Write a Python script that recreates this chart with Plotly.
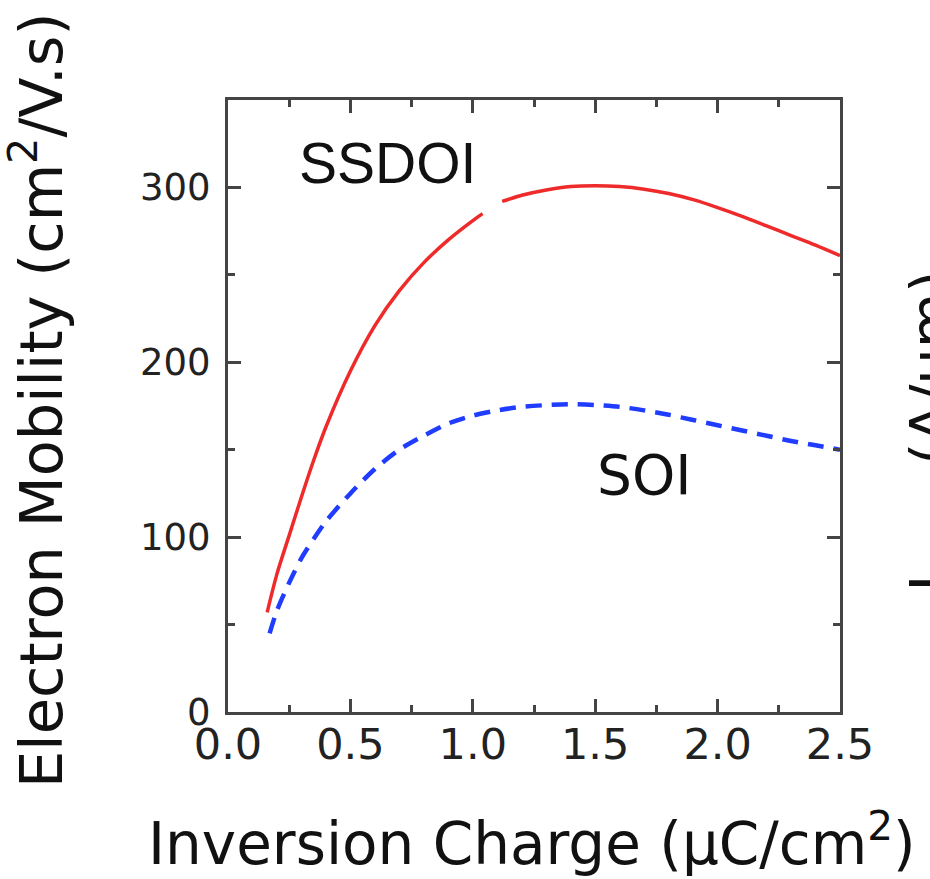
import plotly.graph_objects as go

# SSDOI (red solid) - two segments with a small break near 1.05-1.1
ssdoi_x = [0.16, 0.2, 0.25, 0.3, 0.35, 0.4, 0.5, 0.6, 0.7, 0.8, 0.9, 1.0, 1.04,
           None,
           1.12, 1.2, 1.3, 1.4, 1.5, 1.6, 1.7, 1.8, 1.9, 2.0, 2.1, 2.2, 2.3, 2.4, 2.5]
ssdoi_y = [57, 79, 101, 123, 144, 163, 195, 221, 241, 257, 270, 281, 285,
           None,
           292, 295.5, 298.5, 300.5, 301, 300.5, 299, 296.5, 293, 288.5, 283.5, 278, 272.5, 267, 261]

# SOI (blue dashed)
soi_x = [0.17, 0.2, 0.25, 0.3, 0.35, 0.4, 0.5, 0.6, 0.7, 0.8, 0.9, 1.0, 1.1, 1.2, 1.3,
         1.4, 1.5, 1.6, 1.7, 1.8, 1.9, 2.0, 2.1, 2.2, 2.3, 2.4, 2.5]
soi_y = [45, 58, 74, 88, 99, 109, 125, 139, 150, 158, 165, 169.5, 172.5, 174.5, 175.5,
         176, 175.5, 174.5, 172.5, 170, 167, 164, 161, 158, 155, 152.5, 150]

x_ticks = [0.0, 0.5, 1.0, 1.5, 2.0, 2.5]
x_tick_labels = ["0.0", "0.5", "1.0", "1.5", "2.0", "2.5"]
y_ticks = [0, 100, 200, 300]
y_tick_labels = ["0", "100", "200", "300"]

W, H = 930, 879
ML, MR, MT, MB = 228, 90, 100, 167
PW, PH = W - ML - MR, H - MT - MB

def px(xp):
    return (xp - ML) / PW

def py(yp):
    return (H - MB - yp) / PH

fig = go.Figure()
fig.add_trace(go.Scatter(x=ssdoi_x, y=ssdoi_y, mode="lines", name="SSDOI",
                         line=dict(color="#ee2a2a", width=3.5, shape="spline", smoothing=0.8),
                         connectgaps=False, showlegend=False))
fig.add_trace(go.Scatter(x=soi_x, y=soi_y, mode="lines", name="SOI",
                         line=dict(color="#1f3cff", width=4.5, dash="16px,10px",
                                   shape="spline", smoothing=0.8),
                         showlegend=False))

axis_common = dict(showgrid=False, zeroline=False, showline=True, linecolor="#444444",
                   linewidth=3, mirror="allticks", ticks="inside", tickcolor="#444444",
                   tickwidth=2.5, ticklen=13)

fig.update_xaxes(range=[0, 2.5], tickvals=x_ticks, ticktext=x_tick_labels,
                 tickfont=dict(family="DejaVu Sans", size=43, color="#222222"),
                 minor=dict(dtick=0.25, tick0=0, ticks="inside", ticklen=7,
                            tickcolor="#444444", tickwidth=2.5),
                 ticklabelstandoff=-8,
                 **axis_common)
fig.update_yaxes(range=[0, 350], tickvals=y_ticks, ticktext=y_tick_labels,
                 tickfont=dict(family="DejaVu Sans", size=37, color="#222222"),
                 minor=dict(dtick=50, tick0=0, ticks="inside", ticklen=7,
                            tickcolor="#444444", tickwidth=2.5),
                 ticklabelstandoff=7,
                 **axis_common)

annotations = [
    dict(text="SSDOI", x=0.65, y=314, xref="x", yref="y", showarrow=False,
         font=dict(family="Liberation Sans", size=57, color="#111111")),
    dict(text="SOI", x=1.70, y=135.5, xref="x", yref="y", showarrow=False,
         font=dict(family="DejaVu Sans", size=55, color="#111111")),
    dict(text="Inversion Charge (\u03bcC/cm<sup>2</sup>)", x=px(532), y=py(840),
         xref="paper", yref="paper", showarrow=False, xanchor="center", yanchor="middle",
         font=dict(family="DejaVu Sans", size=58, color="#111111")),
    dict(text="Electron Mobility (cm<sup>2</sup>/V.s)", x=px(37), y=py(400),
         xref="paper", yref="paper", showarrow=False, textangle=-90,
         xanchor="center", yanchor="middle",
         font=dict(family="DejaVu Sans", size=59, color="#111111")),
    dict(text="I<sub>Dsat</sub> (A/\u03bcm)", x=px(895), y=py(268),
         xref="paper", yref="paper", showarrow=False, textangle=-90,
         xanchor="left", yanchor="top",
         font=dict(family="DejaVu Sans", size=57, color="#111111")),
]

fig.update_layout(width=W, height=H, margin=dict(l=ML, r=MR, t=MT, b=MB),
                  plot_bgcolor="white", paper_bgcolor="white",
                  annotations=annotations, showlegend=False)

fig.write_html("out.html")
